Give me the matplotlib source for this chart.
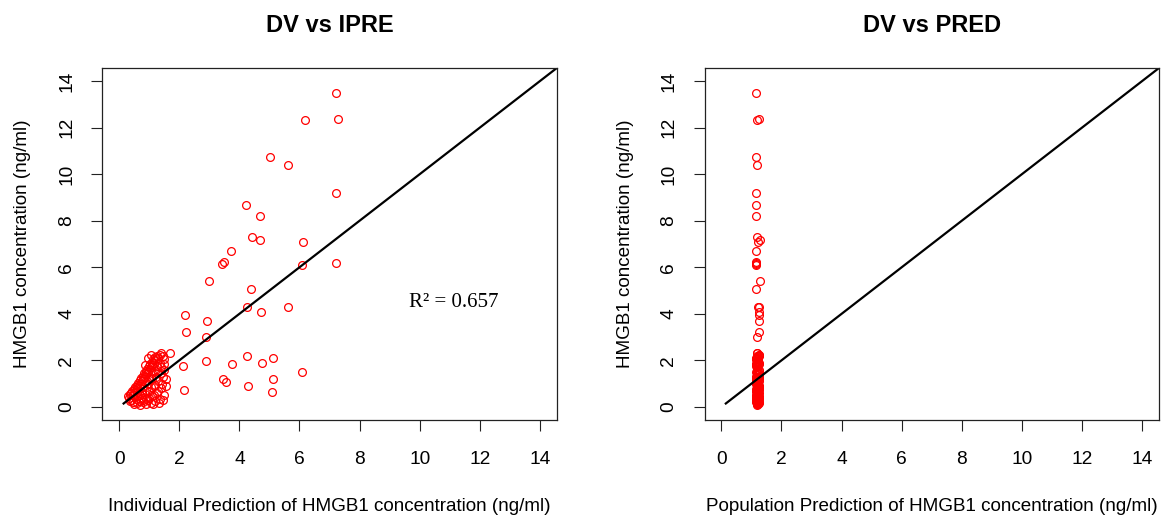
import numpy as np
import matplotlib
matplotlib.use('Agg')
import matplotlib.pyplot as plt

plt.rcParams['font.family'] = ['Liberation Sans', 'DejaVu Sans']

# Observed vs predicted HMGB1 concentration (ng/ml)
ipre_vals = [7.20, 6.17, 7.28, 5.03, 5.62, 7.23, 4.21, 4.67, 4.42, 4.67,
             6.12, 3.72, 3.49, 3.42, 6.07, 7.20, 2.98, 4.38, 4.24, 4.71,
             5.62, 2.19, 2.93, 2.22, 2.88, 1.69, 2.11, 2.88, 3.76, 4.27,
             4.74, 5.12, 6.08, 3.46, 3.54, 5.12, 4.30, 5.08, 2.16,
             0.30, 0.35, 0.38, 0.42, 0.45, 0.48, 0.50, 0.52, 0.55, 0.58,
             0.60, 0.62, 0.65, 0.68, 0.70, 0.72, 0.75, 0.78, 0.80, 0.82,
             0.85, 0.88, 0.90, 0.92, 0.95, 0.98, 1.00, 1.02, 1.05, 1.08,
             1.10, 1.12, 1.15, 1.18, 1.20, 1.25, 1.30, 1.35, 1.40, 1.45,
             1.50, 0.95, 1.05, 0.85, 0.40, 0.45, 0.50, 0.55, 0.60, 0.65,
             0.70, 0.75, 0.80, 0.85, 0.90, 0.95, 1.00, 1.05, 1.10, 1.15,
             1.20, 1.25, 1.30, 1.35, 1.40, 1.45, 1.50, 1.48, 1.45, 1.42,
             1.38, 1.30, 1.22, 1.15, 1.10, 1.05, 0.95, 0.90, 0.80, 0.75,
             0.70, 0.65, 0.60, 1.25, 1.35, 1.50, 1.55, 1.55, 1.20, 1.00,
             0.88, 0.78, 0.68, 1.12, 1.32, 1.40, 1.28, 1.18, 1.08, 0.98,
             0.92, 0.58, 0.33, 0.36]

dv_vals = [13.50, 12.32, 12.37, 10.72, 10.38, 9.21, 8.68, 8.20, 7.28, 7.17,
           7.07, 6.70, 6.23, 6.12, 6.11, 6.20, 5.42, 5.08, 4.28, 4.07,
           4.28, 3.95, 3.69, 3.21, 3.02, 2.30, 1.77, 1.98, 1.83, 2.20,
           1.88, 2.09, 1.50, 1.18, 1.06, 1.18, 0.90, 0.65, 0.75,
           0.45, 0.55, 0.62, 0.70, 0.50, 0.78, 0.60, 0.85, 0.72, 0.95,
           0.80, 1.05, 0.90, 1.15, 1.00, 1.25, 1.10, 1.35, 1.20, 1.45,
           1.30, 1.55, 1.40, 1.65, 1.50, 1.75, 1.60, 1.85, 1.70, 1.95,
           1.80, 2.05, 1.90, 2.15, 2.00, 2.20, 2.10, 2.25, 2.30, 2.20,
           2.05, 2.10, 2.25, 1.80, 0.30, 0.20, 0.12, 0.35, 0.15, 0.25,
           0.10, 0.40, 0.20, 0.55, 0.12, 0.30, 0.70, 0.18, 0.45, 0.90,
           0.25, 0.60, 1.10, 0.35, 0.80, 1.30, 0.50, 1.60, 0.28, 1.00,
           1.45, 0.70, 1.30, 0.50, 1.20, 0.85, 1.00, 0.75, 0.85, 0.65,
           0.50, 0.60, 0.45, 1.75, 1.90, 1.85, 1.20, 0.90, 0.95, 0.40,
           0.35, 0.30, 0.80, 0.12, 0.15, 1.70, 1.50, 1.55, 1.45, 1.25,
           1.10, 0.65, 0.38, 0.25]

pred_vals = [1.16, 1.19, 1.24, 1.16, 1.19, 1.16, 1.16, 1.16, 1.19, 1.30,
             1.21, 1.16, 1.15, 1.16, 1.16, 1.15, 1.30, 1.15, 1.21, 1.26,
             1.24, 1.24, 1.26, 1.24, 1.19, 1.20, 1.18, 1.22, 1.16, 1.24,
             1.20, 1.18, 1.22, 1.16, 1.20, 1.24, 1.18, 1.22, 1.20,
             1.16, 1.20, 1.24, 1.18, 1.22, 1.16, 1.20, 1.24, 1.18, 1.22,
             1.20, 1.16, 1.24, 1.18, 1.22, 1.20, 1.16, 1.24, 1.18, 1.22,
             1.16, 1.20, 1.24, 1.18, 1.22, 1.16, 1.20, 1.24, 1.18, 1.22,
             1.20, 1.16, 1.24, 1.18, 1.22, 1.20, 1.16, 1.24, 1.18, 1.22,
             1.16, 1.20, 1.24, 1.18, 1.22, 1.16, 1.20, 1.24, 1.18, 1.22,
             1.20, 1.16, 1.24, 1.18, 1.22, 1.20, 1.16, 1.24, 1.18, 1.22,
             1.16, 1.20, 1.24, 1.18, 1.22, 1.16, 1.20, 1.24, 1.18, 1.22,
             1.20, 1.16, 1.24, 1.18, 1.22, 1.20, 1.16, 1.24, 1.18, 1.22,
             1.16, 1.20, 1.24, 1.18, 1.22, 1.16, 1.20, 1.24, 1.18, 1.22,
             1.20, 1.16, 1.24, 1.18, 1.22, 1.20, 1.16, 1.24, 1.18, 1.22,
             1.16, 1.20, 1.24, 1.18]

ticks = [0, 2, 4, 6, 8, 10, 12, 14]
identity = [0.12, 15.0]
r2_text = 'R\u00b2 = 0.657'

fig = plt.figure(figsize=(11.69, 5.21), dpi=100)
W, H = 1169, 521

panels = [
    (102.3, ipre_vals, 'DV vs IPRE', 'Individual Prediction of HMGB1 concentration (ng/ml)'),
    (704.5, pred_vals, 'DV vs PRED', 'Population Prediction of HMGB1 concentration (ng/ml)'),
]

for left_px, xvals, title, xlabel in panels:
    box_w, box_h = 454.5, 352.0
    ax = fig.add_axes([left_px / W, (H - 420) / H, box_w / W, box_h / H])
    ax.plot(xvals, dv_vals, linestyle='none', marker='o', ms=5.6,
            mfc='none', mec='#ff0000', mew=0.9)
    ax.plot(identity, identity, color='black', lw=1.6, solid_capstyle='butt')
    ax.set_xlim(-0.56, 14.56)
    ax.set_ylim(-0.56, 14.56)
    ax.set_xticks(ticks)
    ax.set_yticks(ticks)
    ax.tick_params(axis='both', direction='out', length=8, width=0.8,
                   labelsize=13.8, colors='#222222', labelcolor='black')
    ax.tick_params(axis='x', pad=14)
    ax.tick_params(axis='y', pad=11.5, labelrotation=90)
    for lab in ax.get_yticklabels():
        lab.set_verticalalignment('center')
    for sp in ax.spines.values():
        sp.set_linewidth(0.9)
        sp.set_color('#222222')

    ax.set_title(title, fontsize=17, fontweight='bold', y=1 + 35.7 / box_h, pad=0)
    ax.set_xlabel(xlabel, fontsize=13.6, va='baseline')
    ax.xaxis.set_label_coords(0.5, -90.7 / box_h)
    ax.set_ylabel('HMGB1 concentration (ng/ml)', fontsize=13.6, va='baseline',
                  rotation_mode='anchor')
    ax.yaxis.set_label_coords(-75.0 / box_w, 0.5)

    if title == 'DV vs IPRE':
        ax.text(11.13, 4.3, r2_text, fontsize=15, family='Liberation Serif',
                ha='center', va='baseline')

fig.savefig('out.png', dpi=100)
